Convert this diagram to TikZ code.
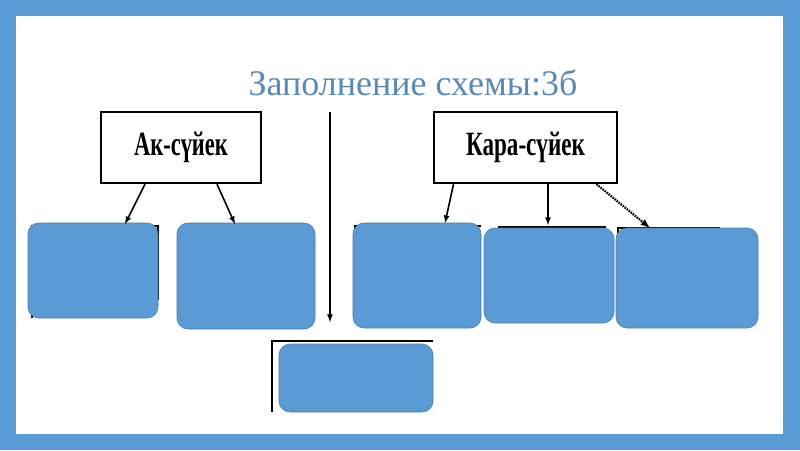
\documentclass[tikz,border=0pt]{standalone}
\usepackage{fontspec}
\setmainfont{Liberation Serif}
\begin{document}
\begin{tikzpicture}[x=1pt,y=-1pt,
  blue/.style={fill=blueF,draw=blueF!80!black,line width=0.6pt,rounded corners=11pt},
  head/.style={draw=black,line width=2.4pt,fill=white,font=\bfseries\fontsize{34}{34}\selectfont,inner sep=0pt},
  arr/.style={-latex,line width=1.6pt},
  back/.style={draw=black,line width=2.4pt}]
\definecolor{blueF}{HTML}{5B9BD5}
\definecolor{titleC}{HTML}{5A8AB5}
\fill[blueF] (0,0) rectangle (800,450);
\fill[white] (16,16) rectangle (783,434);
\node[titleC,font=\fontsize{36}{36}\selectfont] (title) at (413,83) {Заполнение схемы:3б};
\node[head,minimum width=160pt,minimum height=71pt] (ak) at (181,147.5) {\scalebox{0.66}[1]{Ак-сүйек}};
\node[head,minimum width=183pt,minimum height=71pt] (kara) at (525.5,147.5) {\scalebox{0.68}[1]{Кара-сүйек}};
% underlying black outlines
\draw[back] (32,318) -- (32,226) -- (158,226) -- (158,300);
\draw[back] (355,318) -- (355,226) -- (481,226);
\draw[back] (498,227) -- (606,227);
\draw[back] (618,300) -- (618,228) -- (720,228);
\draw[back] (272,412) -- (272,341) -- (433,341);
% blue boxes
\node[blue,minimum width=130pt,minimum height=95pt] (a1) at (93,270.5) {};
\node[blue,minimum width=138pt,minimum height=106pt] (a2) at (246,276) {};
\node[blue,minimum width=128pt,minimum height=105pt] (k1) at (417,275.5) {};
\node[blue,minimum width=130pt,minimum height=95pt] (k2) at (549,275.5) {};
\node[blue,minimum width=142pt,minimum height=100pt] (k3) at (687,278) {};
\node[blue,minimum width=154pt,minimum height=68pt] (b) at (356,378) {};
% arrows
\coordinate (vtop) at (330,112);
\draw[arr] (vtop) -- (330,322);
\draw[arr] ([xshift=-36pt]ak.south) -- (125,224);
\draw[arr] ([xshift=36pt]ak.south) -- (235,224);
\draw[arr] ([xshift=-72pt]kara.south) -- (445,223);
\draw[arr] ([xshift=22.5pt]kara.south) -- (548,225);
\draw[arr,densely dotted,line width=2.2pt] ([xshift=71pt]kara.south) -- (650,228);
\end{tikzpicture}
\end{document}
